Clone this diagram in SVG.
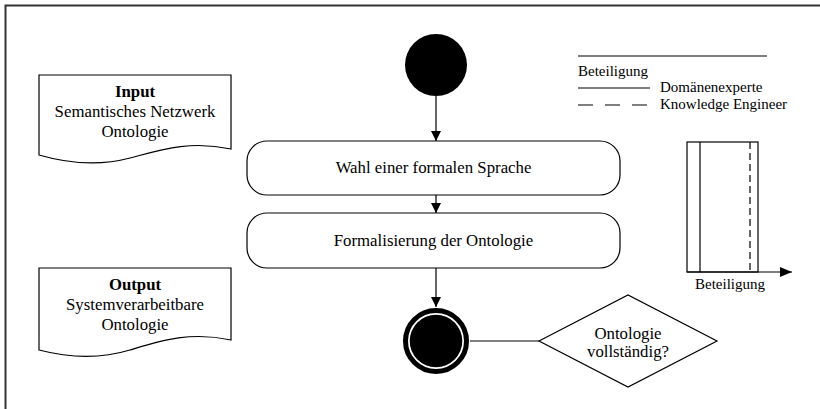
<svg xmlns="http://www.w3.org/2000/svg" width="820" height="409" viewBox="0 0 820 409">
<defs>
<style>
text{font-family:"Liberation Serif","Times New Roman",serif;fill:#000}
.t{font-size:16.8px}
.s{font-size:15px}
.b{font-weight:bold}
.ln{stroke:#000;stroke-width:1.2;fill:none}
.box{fill:#fff;stroke:#000;stroke-width:1.2}
</style>
<marker id="ah" viewBox="0 0 10 10" refX="10" refY="5" markerWidth="10" markerHeight="10" markerUnits="userSpaceOnUse" orient="auto">
<path d="M0,0 L10,5 L0,10 Z" fill="#000"/>
</marker>
<marker id="ahb" viewBox="0 0 12 10" refX="12" refY="5" markerWidth="12" markerHeight="10" markerUnits="userSpaceOnUse" orient="auto">
<path d="M0,0 L12,5 L0,10 Z" fill="#000"/>
</marker>
</defs>
<rect width="820" height="409" fill="#fff"/>
<path d="M5.5,409 V5.5 H820" fill="none" stroke="#333" stroke-width="2"/>

<g id="connectors">
<line class="ln" x1="436" y1="96" x2="436" y2="141" marker-end="url(#ah)"/>
<line class="ln" x1="436" y1="195" x2="436" y2="213" marker-end="url(#ah)"/>
<line class="ln" x1="436" y1="268" x2="436" y2="307" marker-end="url(#ah)"/>
<line class="ln" x1="470" y1="341" x2="539" y2="341"/>
</g>

<g id="start">
<circle cx="436" cy="65" r="31" fill="#000"/>
</g>

<g id="wahl">
<rect class="box" x="247" y="141" width="373" height="54" rx="20"/>
<text class="t" x="433.5" y="173" text-anchor="middle">Wahl einer formalen Sprache</text>
</g>

<g id="formalisierung">
<rect class="box" x="247" y="213" width="373" height="55" rx="20"/>
<text class="t" x="433.5" y="246" text-anchor="middle">Formalisierung der Ontologie</text>
</g>

<g id="end">
<circle cx="436" cy="341" r="30.5" fill="#fff" stroke="#000" stroke-width="5"/>
<circle cx="436" cy="341" r="26.3" fill="#000"/>
</g>

<g id="decision">
<polygon class="box" points="539,341 628,295 717,341 628,387"/>
<text class="t" x="628" y="339" text-anchor="middle">Ontologie</text>
<text class="t" x="628" y="357" text-anchor="middle">vollständig?</text>
</g>

<g id="input">
<path class="box" d="M39,75 H231 V149 C190,140 160,150 130,158 C100,166 70,164 39,155 Z"/>
<text class="t b" x="135" y="97" text-anchor="middle">Input</text>
<text class="t" x="135" y="117" text-anchor="middle">Semantisches Netzwerk</text>
<text class="t" x="135" y="137" text-anchor="middle">Ontologie</text>
</g>

<g id="output">
<path class="box" d="M39,268 H231 V340 C190,331 160,341 130,350 C100,359 70,358 39,350 Z"/>
<text class="t b" x="135" y="290" text-anchor="middle">Output</text>
<text class="t" x="135" y="310" text-anchor="middle">Systemverarbeitbare</text>
<text class="t" x="135" y="330" text-anchor="middle">Ontologie</text>
</g>

<g id="legend">
<line class="ln" x1="578" y1="56" x2="767" y2="56"/>
<text class="s" x="578" y="76">Beteiligung</text>
<line class="ln" x1="578" y1="88" x2="650" y2="88"/>
<text class="s" x="660" y="92">Domänenexperte</text>
<line class="ln" x1="578" y1="105" x2="650" y2="105" stroke-dasharray="15,12"/>
<text class="s" x="660" y="109">Knowledge Engineer</text>
</g>

<g id="chart">
<rect x="687" y="142" width="71" height="130" fill="#fff" stroke="#000" stroke-width="1.2"/>
<line class="ln" x1="700" y1="142" x2="700" y2="272" stroke="#444"/>
<line class="ln" x1="750" y1="142" x2="750" y2="272" stroke="#444" stroke-dasharray="7,4"/>
<line class="ln" x1="687" y1="272" x2="792" y2="272" marker-end="url(#ahb)"/>
<text class="s" x="730" y="289" text-anchor="middle">Beteiligung</text>
</g>
</svg>
